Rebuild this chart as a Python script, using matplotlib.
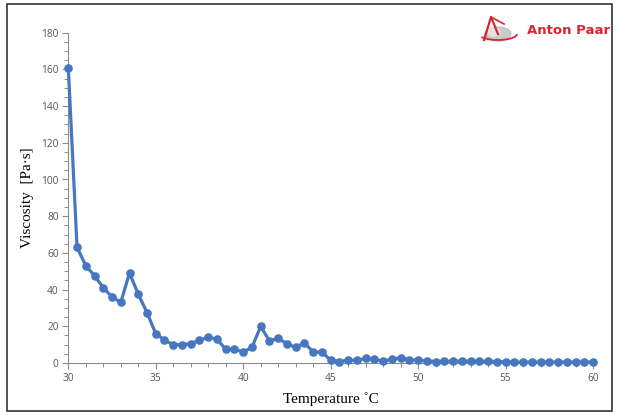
import matplotlib
matplotlib.use("Agg")
import matplotlib.pyplot as plt
import numpy as np
from matplotlib.patches import Rectangle, Ellipse, Arc
from matplotlib.ticker import MultipleLocator

temperature = [30 + 0.5 * i for i in range(61)]
viscosity = [161, 63, 53, 47.5, 41, 36, 33, 49, 37.5, 27.5,
             16, 12.5, 10, 10, 10.5, 12.5, 14, 13, 7.5, 7.5,
             6, 8.5, 20, 12, 13.5, 10.5, 8.5, 11, 6, 6,
             1.5, 0.8, 1.5, 1.5, 2.5, 2, 1, 2, 2.8, 1.8,
             1.5, 1.2, 0.8, 1, 1, 1, 1, 1, 1, 0.7,
             0.7, 0.5, 0.5, 0.5, 0.5, 0.5, 0.5, 0.5, 0.5, 0.5, 0.5]
x_ticks = [30, 35, 40, 45, 50, 55, 60]
y_ticks = [0, 20, 40, 60, 80, 100, 120, 140, 160, 180]

W, H = 617, 415
fig = plt.figure(figsize=(W / 100, H / 100), dpi=100)
fig.patch.set_facecolor("white")

ax = fig.add_axes([68.3 / W, 1 - 363 / H, (593 - 68.3) / W, (363 - 32.7) / H])
ax.plot(temperature, viscosity, color="#4677BF", lw=2.3, marker="o", ms=6.2,
        markeredgewidth=0, clip_on=False, zorder=3)
ax.set_xlim(30, 60)
ax.set_ylim(0, 180)
ax.set_xticks(x_ticks)
ax.set_yticks(y_ticks)
ax.xaxis.set_minor_locator(MultipleLocator(1))
ax.yaxis.set_minor_locator(MultipleLocator(5))
for s in ["top", "right"]:
    ax.spines[s].set_visible(False)
for s in ["left", "bottom"]:
    ax.spines[s].set_color("#8c8c8c")
    ax.spines[s].set_linewidth(0.8)
ax.tick_params(which="major", direction="out", length=4, width=0.8, color="#8c8c8c",
               labelsize=7.3, labelcolor="#555555", pad=3)
ax.tick_params(which="minor", direction="out", length=3, width=0.7, color="#8c8c8c")
for lab in ax.get_xticklabels() + ax.get_yticklabels():
    lab.set_fontfamily("Open Sans")

ax.set_xlabel("Temperature ˚C", fontfamily="Liberation Serif", fontsize=11, labelpad=6)
ax.set_ylabel("Viscosity  [Pa·s]", fontfamily="Liberation Serif", fontsize=11, labelpad=5)

# outer frame
fig.add_artist(Rectangle((7 / W, 1 - 411 / H), (612 - 7) / W, (411 - 4) / H,
                         transform=fig.transFigure, fill=False, ec="#333333", lw=1.2))

# logo
fig.text(527 / W, 1 - 31 / H, "Anton Paar", color="#D7262E", fontsize=9.5,
         fontweight="bold", fontfamily="DejaVu Sans", va="center", ha="left")
logo_ax = fig.add_axes([474 / W, 1 - 48 / H, 48 / W, 36 / H])
logo_ax.set_xlim(0, 48)
logo_ax.set_ylim(0, 36)
logo_ax.axis("off")
logo_ax.add_patch(Ellipse((24, 14), 26, 14, color="#bdbdbd", alpha=0.8))
logo_ax.add_patch(Ellipse((20, 16), 12, 8, color="#e6e6e6", alpha=0.9))
logo_ax.add_patch(Arc((24, 14), 38, 12, theta1=190, theta2=360, color="#D7262E", lw=1.3))
logo_ax.plot([10, 17, 24], [8, 31, 14], color="#D7262E", lw=1.6)
logo_ax.plot([17, 30], [31, 24], color="#D7262E", lw=1.2)

fig.savefig("out.png", dpi=100)
